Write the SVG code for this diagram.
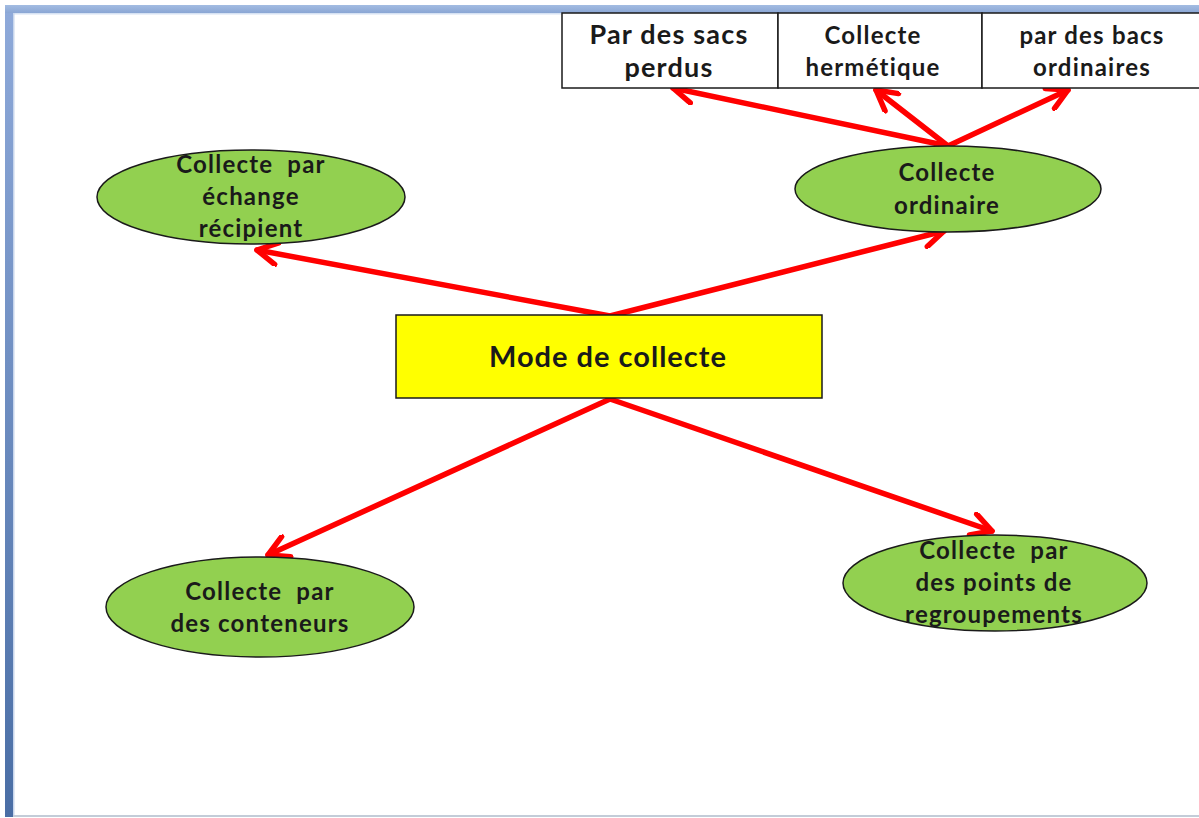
<svg xmlns="http://www.w3.org/2000/svg" width="1199" height="818" viewBox="0 0 1199 818">
<defs>
<linearGradient id="gl" x1="0" y1="0" x2="0" y2="1">
<stop offset="0" stop-color="#8FAADA"/>
<stop offset="1" stop-color="#4A6EA5"/>
</linearGradient>
<linearGradient id="gt" x1="0" y1="0" x2="0" y2="1">
<stop offset="0" stop-color="#A3BCE2"/>
<stop offset="1" stop-color="#8AA6D4"/>
</linearGradient>
<marker id="ah" viewBox="0 0 26 26" refX="23" refY="13" markerWidth="26" markerHeight="26" markerUnits="userSpaceOnUse" orient="auto">
<path d="M3,2 L23,13 L3,24" fill="none" stroke="#FF0000" stroke-width="5.5" stroke-linecap="round" stroke-linejoin="round"/>
</marker>
</defs>
<style>
.t{font-family:Lato,"Open Sans","Liberation Sans",sans-serif;font-weight:bold;fill:#1a1a1a;text-anchor:middle;font-size:24px;letter-spacing:1.2px;white-space:pre}
.ell{fill:#92D050;stroke:#1a1a1a;stroke-width:1.5}
.cell{fill:#ffffff;stroke:#1a1a1a;stroke-width:1.5}
.arr{stroke:#FF0000;stroke-width:5.5;fill:none;stroke-linecap:round;marker-end:url(#ah)}
</style>
<rect x="0" y="0" width="1199" height="818" fill="#ffffff"/>
<g id="frame">
<rect x="5" y="5" width="8" height="812" fill="url(#gl)"/>
<rect x="5" y="5" width="1194" height="8" fill="url(#gt)"/>
<rect x="13" y="13" width="1186" height="1.5" fill="#D6E2F3"/>
<rect x="13" y="13" width="1.5" height="804" fill="#C8D6EC"/>
<rect x="13" y="815" width="1186" height="2" fill="#C3CCD8"/>
</g>
<g id="connectors">
<line class="arr" x1="610" y1="316" x2="257" y2="250"/>
<line class="arr" x1="610" y1="316" x2="944" y2="231"/>
<line class="arr" x1="610" y1="399" x2="268" y2="555"/>
<line class="arr" x1="610" y1="399" x2="992" y2="531"/>
<line class="arr" x1="948" y1="146" x2="673" y2="88"/>
<line class="arr" x1="948" y1="146" x2="876" y2="90"/>
<line class="arr" x1="948" y1="146" x2="1068" y2="90"/>
</g>
<g id="cell-sacs">
<rect class="cell" x="562" y="13" width="216" height="75"/>
<text class="t" x="669" y="44" style="font-size:27px">Par des sacs</text>
<text class="t" x="669" y="77" style="font-size:27px">perdus</text>
</g>
<g id="cell-hermetique">
<rect class="cell" x="778" y="13" width="204" height="75"/>
<text class="t" x="873" y="44">Collecte</text>
<text class="t" x="873" y="76">hermétique</text>
</g>
<g id="cell-bacs">
<rect class="cell" x="982" y="13" width="230" height="75"/>
<text class="t" x="1092" y="44">par des bacs</text>
<text class="t" x="1092" y="76">ordinaires</text>
</g>
<g id="node-ordinaire">
<ellipse class="ell" cx="948" cy="189" rx="153" ry="43"/>
<text class="t" x="947" y="181">Collecte</text>
<text class="t" x="947" y="214">ordinaire</text>
</g>
<g id="node-echange">
<ellipse class="ell" cx="251" cy="197" rx="154" ry="47"/>
<text class="t" x="251" y="173" xml:space="preserve">Collecte  par</text>
<text class="t" x="251" y="205">échange</text>
<text class="t" x="251" y="237">récipient</text>
</g>
<g id="node-mode">
<rect x="396" y="315" width="426" height="83" fill="#FFFF00" stroke="#1a1a1a" stroke-width="1.5"/>
<text class="t" x="608" y="367" style="font-size:29px;letter-spacing:1px">Mode de collecte</text>
</g>
<g id="node-conteneurs">
<ellipse class="ell" cx="260" cy="607" rx="154" ry="50"/>
<text class="t" x="260" y="600" xml:space="preserve">Collecte  par</text>
<text class="t" x="260" y="632">des conteneurs</text>
</g>
<g id="node-regroupements">
<ellipse class="ell" cx="995" cy="583" rx="152" ry="48"/>
<text class="t" x="994" y="559" xml:space="preserve">Collecte  par</text>
<text class="t" x="994" y="591">des points de</text>
<text class="t" x="994" y="623">regroupements</text>
</g>
</svg>
